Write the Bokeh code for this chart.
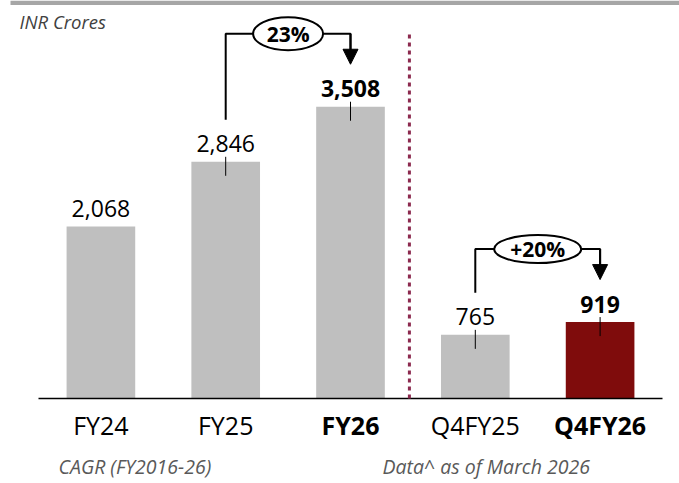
from bokeh.plotting import figure
from bokeh.models import Range1d, Arrow, NormalHead
from bokeh.core.properties import value
from bokeh.embed import file_html
from bokeh.resources import INLINE

# ---------------- data ----------------
categories = ["FY24", "FY25", "FY26", "Q4FY25", "Q4FY26"]
values = [2068, 2846, 3508, 765, 919]
value_labels = ["2,068", "2,846", "3,508", "765", "919"]
is_bold = [False, False, True, False, True]
bar_colors = ["#bfbfbf", "#bfbfbf", "#bfbfbf", "#bfbfbf", "#7f0c0c"]
has_leader = [False, True, True, True, True]
growth_labels = ["23%", "+20%"]
growth_from = ["FY25", "Q4FY25"]
growth_to = ["FY26", "Q4FY26"]
unit_label = "INR Crores"
footnotes = ["CAGR (FY2016-26)", "Data^ as of March 2026"]

# ---------------- layout ----------------
W, H = 679, 483
PX_PER_CAT = 124.8
PX_PER_VAL = 0.08317
LEFT_PAD_PX = 38
BASE_PX = 398

x_start = -LEFT_PAD_PX / PX_PER_CAT
x_end = x_start + W / PX_PER_CAT
y_end = BASE_PX / PX_PER_VAL
y_start = y_end - H / PX_PER_VAL


def px_y(n):
    return n / PX_PER_VAL


def px_x(n):
    return n / PX_PER_CAT


FONT = value("Open Sans")

xs = [i + 0.5 for i in range(len(categories))]
xpos = dict(zip(categories, xs))
vals = dict(zip(categories, values))

p = figure(width=W, height=H, x_range=Range1d(x_start, x_end),
           y_range=Range1d(y_start, y_end), output_backend="svg",
           toolbar_location=None, min_border=0,
           x_axis_location=None, y_axis_location=None)
p.grid.visible = False
p.outline_line_color = None
p.background_fill_color = "white"
p.border_fill_color = "white"

# top band
p.quad(left=[x_start + px_x(10)], right=[x_end], top=[y_end],
       bottom=[y_end - px_y(4.5)], fill_color="#a6a6a6", line_color=None)

# bars
p.vbar(x=xs, top=values, bottom=0, width=0.55, fill_color=bar_colors,
       line_color=None)

# baseline
p.segment(x0=[0], x1=[len(categories)], y0=[0], y1=[0],
          line_color="black", line_width=1.5)

# divider between annual and quarterly
sep_x = categories.index("Q4FY25") - px_x(3.5)
p.segment(x0=[sep_x], x1=[sep_x], y0=[0], y1=[px_y(368)],
          line_color="#8c2a4f", line_width=3, line_dash="4 4")

# leader ticks
lx = [x for x, h in zip(xs, has_leader) if h]
lv = [v for v, h in zip(values, has_leader) if h]
p.segment(x0=lx, x1=lx, y0=[v + px_y(5) for v in lv],
          y1=[v - px_y(14) for v in lv], line_color="black", line_width=1)

# value labels (centre of digits ~18px above bar top)
for bold in (False, True):
    sx = [x for x, b in zip(xs, is_bold) if b == bold]
    sy = [v + px_y(18) for v, b in zip(values, is_bold) if b == bold]
    st = [t for t, b in zip(value_labels, is_bold) if b == bold]
    p.text(x=sx, y=sy, text=st, text_align="center",
           text_baseline="middle", text_font=FONT,
           text_font_size="23px",
           text_font_style="bold" if bold else "normal",
           text_color="black")

# category labels
for bold in (False, True):
    sx = [x for x, b in zip(xs, is_bold) if b == bold]
    st = [c for c, b in zip(categories, is_bold) if b == bold]
    p.text(x=sx, y=[-px_y(26)] * len(sx), text=st, text_align="center",
           text_baseline="middle", text_font=FONT,
           text_font_size="25px",
           text_font_style="bold" if bold else "normal",
           text_color="black")

# growth brackets
oval_w = [70, 87]
oval_h = [33, 28]
for lbl, f, t, ow, oh in zip(growth_labels, growth_from, growth_to, oval_w, oval_h):
    x0, x1 = xpos[f], xpos[t]
    y_low = vals[f] + px_y(42)
    y_h = vals[t] + px_y(73)
    tip = vals[t] + px_y(42.5)
    p.line([x0, x0, x1, x1], [y_low, y_h, y_h, tip + px_y(10)],
           line_color="black", line_width=2)
    p.add_layout(Arrow(end=NormalHead(size=15, fill_color="black",
                                      line_color="black", line_width=1),
                       x_start=x1, y_start=y_h, x_end=x1, y_end=tip,
                       line_color="black", line_width=2))
    mid = (x0 + x1) / 2
    p.ellipse(x=[mid], y=[y_h], width=ow, height=oh, width_units="screen",
              height_units="screen", fill_color="white", line_color="black",
              line_width=2)
    p.text(x=[mid], y=[y_h], text=[lbl], text_align="center",
           text_baseline="middle", text_font=FONT, text_font_size="21px",
           text_font_style="bold", text_color="black")

# unit label
p.text(x=[x_start + px_x(19)], y=[px_y(377.5)], text=[unit_label],
       text_align="left", text_baseline="middle", text_font=FONT,
       text_font_size="18.5px", text_font_style="italic", text_color="#404040")

# footnotes
foot_x = [px_x(20), px_x(344)]
p.text(x=foot_x, y=[-px_y(68)] * 2, text=footnotes, text_align="left",
       text_baseline="middle", text_font=FONT, text_font_size="19.5px",
       text_font_style="italic", text_color="#595959")

open("out.html", "w").write(file_html(p, INLINE))
